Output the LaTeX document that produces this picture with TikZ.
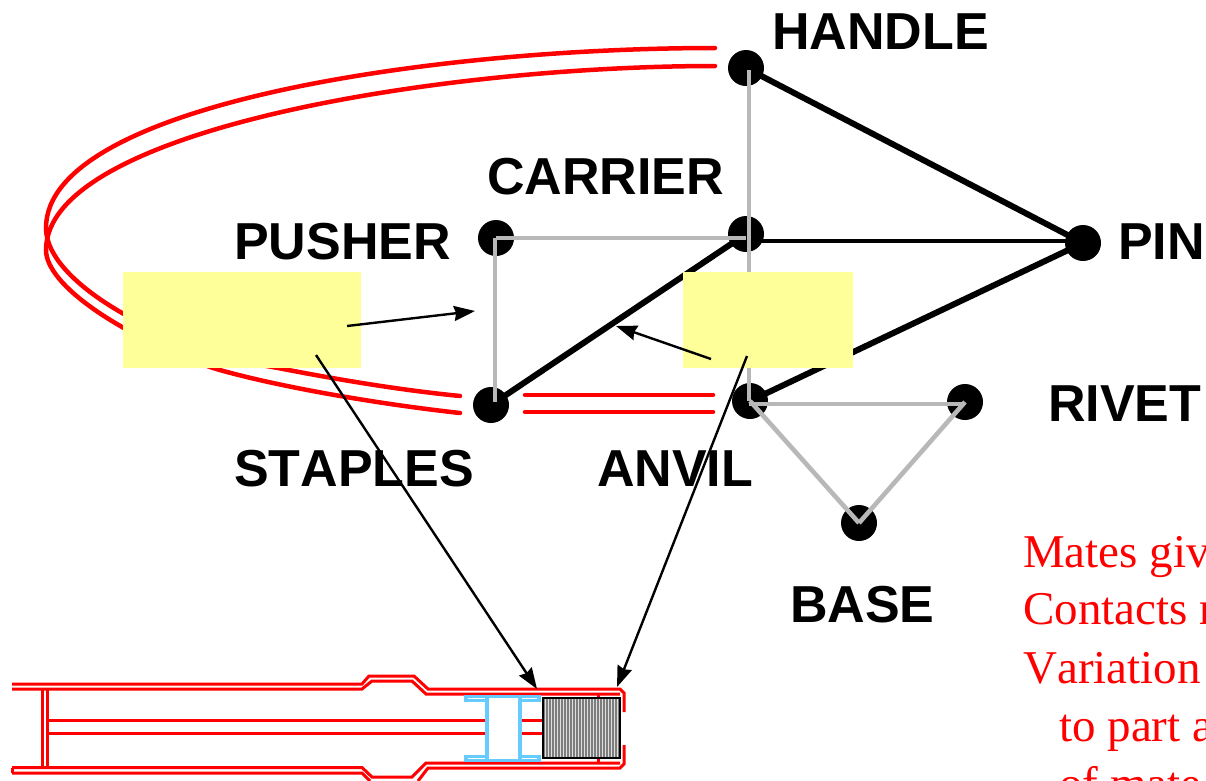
\documentclass[tikz,border=0pt]{standalone}
\usepackage{fontspec}
\setmainfont[Kerning=Off]{Liberation Serif}
\newfontfamily\labelfont[Kerning=Off]{Liberation Sans}
\usetikzlibrary{arrows.meta}
\definecolor{softyellow}{RGB}{255,255,153}
\definecolor{softgray}{RGB}{184,184,184}
\definecolor{softblue}{RGB}{102,204,255}
\definecolor{toolgray}{RGB}{125,125,125}
\tikzset{
 dot/.style={circle,fill=black,inner sep=0pt,minimum size=36pt},
 partlabel/.style={font=\labelfont\bfseries\fontsize{52}{52}\selectfont,text=black,inner sep=0pt,anchor=base west},
 notetext/.style={font=\fontsize{47}{47}\selectfont,text=red,inner sep=0pt,anchor=base west},
 grayedge/.style={draw=softgray,line width=4.6pt},
 blackedge/.style={draw=black,line width=6pt},
 matecurve/.style={draw=red,line width=4.5pt,line cap=round},
 callout/.style={draw=black,line width=2.4pt,-{Stealth[length=21pt,width=15pt,inset=2pt]}},
 note/.style={fill=softyellow,draw=none,inner sep=0pt},
 redline/.style={draw=red,line width=3pt},
 blueline/.style={draw=softblue,line width=3.2pt}
}
\begin{document}
\begin{tikzpicture}[x=1pt,y=-1pt]
\useasboundingbox (0,0) rectangle (1206,780);
\clip (0,0) rectangle (1206,780);
% dots
\node[dot] (handle) at (746,68) {};
\node[dot] (pusher) at (496,238) {};
\node[dot] (carrier) at (746,234) {};
\node[dot] (pin) at (1083,243) {};
\node[dot] (staples) at (491,405) {};
\node[dot] (anvil) at (750,401) {};
\node[dot] (rivet) at (965,402) {};
\node[dot] (base) at (859,523) {};
% red mates
\coordinate (m1a) at (715,48); \coordinate (m1b) at (460,396);
\coordinate (m2a) at (715,66); \coordinate (m2b) at (460,413);
\draw[matecurve] (m1a) .. controls (430,48) and (46,105) .. (46,228) .. controls (46,285) and (170,350) .. (278,368) .. controls (340,380) and (400,390) .. (m1b);
\draw[matecurve] (m2a) .. controls (440,66) and (46,130) .. (46,250) .. controls (46,285) and (120,335) .. (213,368) .. controls (270,385) and (370,403) .. (m2b);
\coordinate (r1a) at (525,395); \coordinate (r1b) at (713,395);
\coordinate (r2a) at (525,412); \coordinate (r2b) at (713,412);
\draw[matecurve] (r1a) -- (r1b);
\draw[matecurve] (r2a) -- (r2b);
% black edges
\draw[blackedge] (handle.center) -- (pin.center);
\draw[blackedge,line width=4.5pt] (746,241) -- (pin.center |- 0,241);
\draw[blackedge] (carrier.center) -- (staples.center);
\draw[blackedge] (anvil.center) -- (pin.center);
% gray edges
\draw[grayedge] (749,70) -- (749,401);
\draw[grayedge] (pusher.center |- 0,238) -- (carrier.center |- 0,238);
\draw[grayedge] (495,238) -- (495,402);
\draw[grayedge] (749,404) -- (965,404);
\draw[grayedge] (anvil.center) -- (base.center);
\draw[grayedge] (rivet.center) -- (base.center);
% yellow notes
\node[note,minimum width=238pt,minimum height=96pt] (n1) at (242,320) {};
\node[note,minimum width=170pt,minimum height=96pt] (n2) at (768,320) {};
% labels
\node[partlabel] (lhandle) at (772,49) {HANDLE};
\node[partlabel] (lcarrier) at (487,194) {CARRIER};
\node[partlabel] (lpusher) at (234,259) {PUSHER};
\node[partlabel] (lpin) at (1118,259) {PIN};
\node[partlabel] (lrivet) at (1048,421) {RIVET};
\node[partlabel] (lstaples) at (234,486) {STAPLES};
\node[partlabel] (lanvil) at (597,486) {ANVIL};
\node[partlabel] (lbase) at (790,622) {BASE};
% note text
\node[notetext] (t1) at (1023,567) {Mates give};
\node[notetext] (t2) at (1023,624) {Contacts r};
\node[notetext] (t3) at (1023,683) {Variation};
\node[notetext] (t4) at (1059,741) {to part a};
\node[notetext] (t5) at (1059,799) {of mate};
% mechanism
\draw[redline] (12,684) -- (362,684) -- (369,676) -- (414,676) -- (428,689) -- (620,689) -- (624,693) -- (624,712);
\draw[redline] (12,689) -- (362,689) -- (372,681) -- (412,681) -- (426,694) -- (620,694);
\draw[redline] (12,767.5) -- (362,767.5) -- (372,777) -- (412,777) -- (426,763) -- (620,763);
\draw[redline] (12,773) -- (12,767.5);
\draw[redline] (12,773) -- (362,773) -- (370,781);
\draw[redline] (418,781) -- (428,768) -- (620,768) -- (624,764) -- (624,745);
\draw[redline] (42,689) -- (42,767);
\draw[redline] (47,689) -- (47,767);
\draw[redline] (47,720) -- (543,720);
\draw[redline] (47,733) -- (543,733);
\draw[redline] (598,694) -- (598,698);
\draw[redline] (598,758) -- (598,763);
\fill[white] (466,697) rectangle (539,700);
\fill[white] (466,757) rectangle (539,760);
\draw[blueline] (466,696.5) rectangle (539,700.5);
\draw[blueline] (466,756.5) rectangle (539,760.5);
\fill[white] (487,698) rectangle (520,759);
\draw[blueline] (487,697) -- (487,760);
\draw[blueline] (520,697) -- (520,760);
\fill[toolgray] (543,698) rectangle (620,758);
\foreach \i in {0,...,25} \draw[white!75!gray,line width=0.8pt] ({545+\i*3},698) -- ({545+\i*3},758);
\draw[black,line width=2.8pt] (543,698) rectangle (620,758);
% callouts
\coordinate (c1s) at (347,326); \coordinate (c1e) at (475,311);
\coordinate (c2s) at (711,359); \coordinate (c2e) at (616,326);
\coordinate (c3s) at (316,355); \coordinate (c3e) at (537,689);
\coordinate (c4s) at (747,356); \coordinate (c4e) at (617,687);
\draw[callout] (c1s) -- (c1e);
\draw[callout] (c2s) -- (c2e);
\draw[callout] (c3s) -- (c3e);
\draw[callout] (c4s) -- (c4e);
\end{tikzpicture}
\end{document}
